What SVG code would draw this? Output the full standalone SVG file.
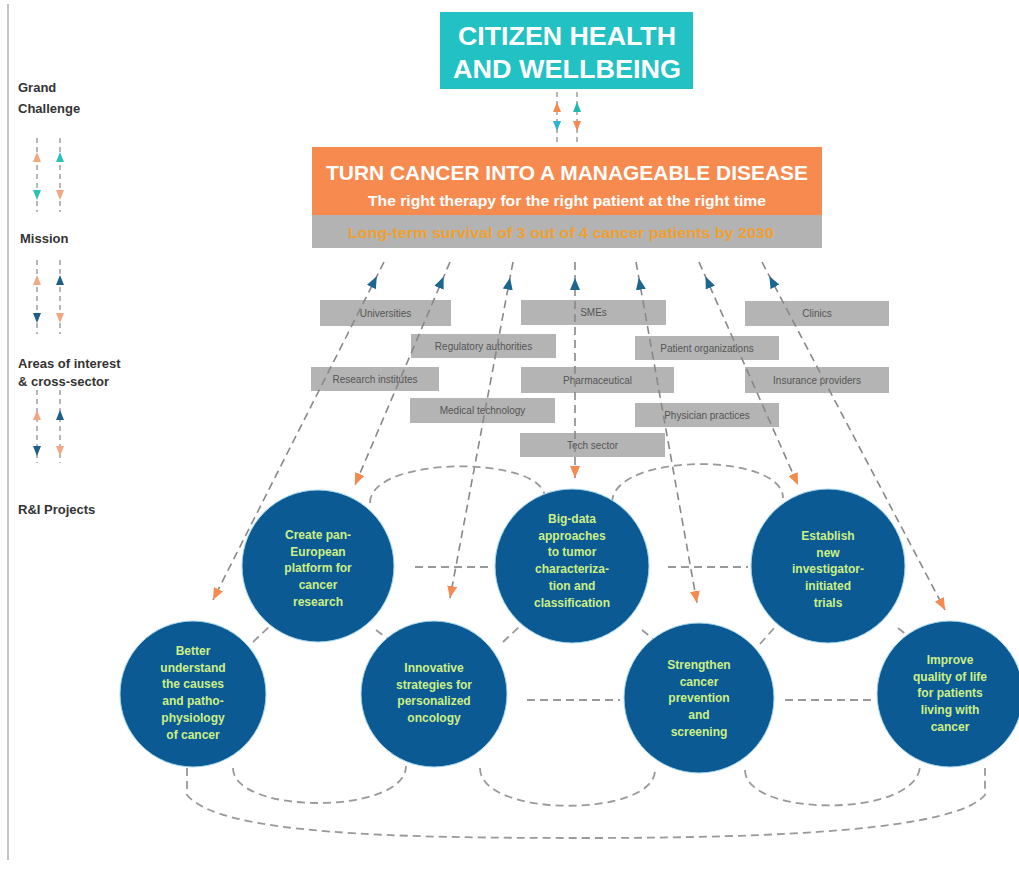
<svg xmlns="http://www.w3.org/2000/svg" width="1019" height="879" viewBox="0 0 1019 879">
<defs>
<style>
.lbl{font-family:"Liberation Sans",Arial,sans-serif;font-weight:bold;font-size:13px;fill:#333}
.box{fill:#b4b4b4}
.bt{font-family:"Liberation Sans",Arial,sans-serif;font-size:10px;fill:#555;text-anchor:middle}
.circ{fill:#0b5a93;stroke:#a8d8f0;stroke-width:1}
.ct{font-family:"Liberation Sans",Arial,sans-serif;font-weight:bold;font-size:12px;fill:#cdef86;text-anchor:middle}
.dash{fill:none;stroke:#999;stroke-width:1.8;stroke-dasharray:8 5}
.mline{fill:none;stroke:#888;stroke-width:1.6;stroke-dasharray:8 5;marker-mid:url(#bu);marker-end:url(#oe)}
.lg{fill:none;stroke:#999;stroke-width:1.4;stroke-dasharray:5 4}
</style>
<marker id="bu" viewBox="0 0 12 10" refX="0" refY="5" markerWidth="12" markerHeight="10" markerUnits="userSpaceOnUse" orient="auto">
<path d="M0,5 L12,0 L12,10 z" fill="#1d6690"/>
</marker>
<marker id="oe" viewBox="0 0 12 10" refX="12" refY="5" markerWidth="12" markerHeight="10" markerUnits="userSpaceOnUse" orient="auto">
<path d="M0,0 L12,5 L0,10 z" fill="#f5894f"/>
</marker>
</defs>
<rect width="1019" height="879" fill="#fff"/>
<line x1="8" y1="4" x2="8" y2="860" stroke="#c4c4c4" stroke-width="2"/>

<g id="legend">
<text class="lbl" x="18" y="92">Grand</text>
<text class="lbl" x="18" y="113">Challenge</text>
<text class="lbl" x="20" y="243">Mission</text>
<text class="lbl" x="18" y="368">Areas of interest</text>
<text class="lbl" x="18" y="386">&amp; cross-sector</text>
<text class="lbl" x="18" y="514">R&amp;I Projects</text>
<line class="lg" x1="37" y1="138" x2="37" y2="212"/>
<line class="lg" x1="60" y1="138" x2="60" y2="212"/>
<path d="M37,152 L41,162 L33,162 z" fill="#f4a582"/>
<path d="M37,200 L41,190 L33,190 z" fill="#2dc2b8"/>
<path d="M60,152 L64,162 L56,162 z" fill="#2dc2b8"/>
<path d="M60,200 L64,190 L56,190 z" fill="#f4a582"/>
<line class="lg" x1="37" y1="260" x2="37" y2="334"/>
<line class="lg" x1="60" y1="260" x2="60" y2="334"/>
<path d="M37,275 L41,285 L33,285 z" fill="#f4a582"/>
<path d="M37,323 L41,313 L33,313 z" fill="#1d5f88"/>
<path d="M60,275 L64,285 L56,285 z" fill="#1d5f88"/>
<path d="M60,323 L64,313 L56,313 z" fill="#f4a582"/>
<line class="lg" x1="37" y1="390" x2="37" y2="463"/>
<line class="lg" x1="60" y1="390" x2="60" y2="463"/>
<path d="M37,410 L41,420 L33,420 z" fill="#f4a582"/>
<path d="M37,456 L41,446 L33,446 z" fill="#1d5f88"/>
<path d="M60,410 L64,420 L56,420 z" fill="#1d5f88"/>
<path d="M60,456 L64,446 L56,446 z" fill="#f4a582"/>
</g>

<g id="citizen">
<rect x="440" y="12" width="253" height="77" fill="#22c1c4"/>
<text x="567" y="45" text-anchor="middle" font-family="Liberation Sans, Arial, sans-serif" font-weight="bold" font-size="26" fill="#fff" textLength="218" lengthAdjust="spacingAndGlyphs">CITIZEN HEALTH</text>
<text x="567" y="78" text-anchor="middle" font-family="Liberation Sans, Arial, sans-serif" font-weight="bold" font-size="26" fill="#fff" textLength="228" lengthAdjust="spacingAndGlyphs">AND WELLBEING</text>
</g>

<g id="mission">
<rect x="312" y="147" width="510" height="68" fill="#f78a4f"/>
<rect x="312" y="215" width="510" height="33" fill="#b3b3b3"/>
<text x="567" y="180" text-anchor="middle" font-family="Liberation Sans, Arial, sans-serif" font-weight="bold" font-size="20" fill="#fff" textLength="482" lengthAdjust="spacingAndGlyphs">TURN CANCER INTO A MANAGEABLE DISEASE</text>
<text x="567" y="206" text-anchor="middle" font-family="Liberation Sans, Arial, sans-serif" font-weight="bold" font-size="14" fill="#fff" textLength="398" lengthAdjust="spacingAndGlyphs">The right therapy for the right patient at the right time</text>
<text x="561" y="238" text-anchor="middle" font-family="Liberation Sans, Arial, sans-serif" font-weight="bold" font-size="14" fill="#f0a030" textLength="426" lengthAdjust="spacingAndGlyphs">Long-term survival of 3 out of 4 cancer patients by 2030</text>
</g>

<g id="areas">
<rect class="box" x="320" y="300" width="131" height="26"/><text class="bt" x="385.5" y="317">Universities</text>
<rect class="box" x="521" y="300" width="145" height="25"/><text class="bt" x="593.5" y="316">SMEs</text>
<rect class="box" x="745" y="301" width="144" height="25"/><text class="bt" x="817" y="317">Clinics</text>
<rect class="box" x="411" y="334" width="145" height="24"/><text class="bt" x="483.5" y="350">Regulatory authorities</text>
<rect class="box" x="635" y="336" width="144" height="24"/><text class="bt" x="707" y="352">Patient organizations</text>
<rect class="box" x="311" y="367" width="128" height="24"/><text class="bt" x="375" y="383">Research institutes</text>
<rect class="box" x="521" y="367" width="153" height="26"/><text class="bt" x="597.5" y="384">Pharmaceutical</text>
<rect class="box" x="745" y="367" width="144" height="26"/><text class="bt" x="817" y="384">Insurance providers</text>
<rect class="box" x="410" y="398" width="145" height="25"/><text class="bt" x="482.5" y="414">Medical technology</text>
<rect class="box" x="635" y="403" width="144" height="24"/><text class="bt" x="707" y="419">Physician practices</text>
<rect class="box" x="520" y="433" width="145" height="24"/><text class="bt" x="592.5" y="449">Tech sector</text>
</g>

<g id="connectors">
<line x1="557" y1="92" x2="557" y2="146" stroke="#999" stroke-width="1.4" stroke-dasharray="5 4"/>
<line x1="577" y1="92" x2="577" y2="146" stroke="#999" stroke-width="1.4" stroke-dasharray="5 4"/>
<path d="M557,102 L561,112 L553,112 z" fill="#f5894f"/>
<path d="M557,131 L561,121 L553,121 z" fill="#2bb5d0"/>
<path d="M577,102 L581,112 L573,112 z" fill="#22b8b0"/>
<path d="M577,131 L581,121 L573,121 z" fill="#f5894f"/>

<path class="mline" d="M384,262 L376.8,276.3 L213,600"/>
<path class="mline" d="M450,262 L443.7,276.7 L355,485"/>
<path class="mline" d="M513,262 L510,277.7 L450,598"/>
<path class="mline" d="M575,262 L575,278 L575,478"/>
<path class="mline" d="M636,262 L638.8,277.7 L697,603"/>
<path class="mline" d="M699,262 L705.5,276.6 L798,485"/>
<path class="mline" d="M762,262 L769.4,276.2 L945,610"/>

<path class="dash" d="M370,503 C370,455 545,455 545,498"/>
<path class="dash" d="M612,503 C612,452 783,452 783,498"/>
<line class="dash" x1="415" y1="567" x2="492" y2="567"/>
<line class="dash" x1="668" y1="567" x2="748" y2="567"/>
<line class="dash" x1="527" y1="700" x2="620" y2="700"/>
<line class="dash" x1="785" y1="700" x2="875" y2="700"/>
<line class="dash" x1="253" y1="642" x2="272" y2="624"/>
<line class="dash" x1="376" y1="630" x2="392" y2="642"/>
<line class="dash" x1="503" y1="642" x2="520" y2="626"/>
<line class="dash" x1="642" y1="630" x2="658" y2="643"/>
<line class="dash" x1="760" y1="644" x2="775" y2="627"/>
<line class="dash" x1="898" y1="628" x2="914" y2="641"/>
<path class="dash" d="M233,768 C233,815 406,815 406,766"/>
<path class="dash" d="M480,768 C480,818 655,818 655,770"/>
<path class="dash" d="M745,770 C745,818 920,818 920,765"/>
<path class="dash" d="M187,768 V795 C220,835 400,838 585,838 C780,838 955,830 985,795 V768"/>
</g>

<g id="n1">
<circle class="circ" cx="318" cy="566" r="76"/>
<text class="ct" x="318" y="539">Create pan-<tspan x="318" dy="16.7">European</tspan><tspan x="318" dy="16.7">platform for</tspan><tspan x="318" dy="16.7">cancer</tspan><tspan x="318" dy="16.7">research</tspan></text>
</g>
<g id="n2">
<circle class="circ" cx="572" cy="566" r="77"/>
<text class="ct" x="572" y="523">Big-data<tspan x="572" dy="16.7">approaches</tspan><tspan x="572" dy="16.7">to tumor</tspan><tspan x="572" dy="16.7">characteriza-</tspan><tspan x="572" dy="16.7">tion and</tspan><tspan x="572" dy="16.7">classification</tspan></text>
</g>
<g id="n3">
<circle class="circ" cx="828" cy="566" r="77"/>
<text class="ct" x="828" y="540">Establish<tspan x="828" dy="16.7">new</tspan><tspan x="828" dy="16.7">investigator-</tspan><tspan x="828" dy="16.7">initiated</tspan><tspan x="828" dy="16.7">trials</tspan></text>
</g>
<g id="n4">
<circle class="circ" cx="193" cy="694" r="73"/>
<text class="ct" x="193" y="655">Better<tspan x="193" dy="16.7">understand</tspan><tspan x="193" dy="16.7">the causes</tspan><tspan x="193" dy="16.7">and patho-</tspan><tspan x="193" dy="16.7">physiology</tspan><tspan x="193" dy="16.7">of cancer</tspan></text>
</g>
<g id="n5">
<circle class="circ" cx="434" cy="694" r="73"/>
<text class="ct" x="434" y="672">Innovative<tspan x="434" dy="16.7">strategies for</tspan><tspan x="434" dy="16.7">personalized</tspan><tspan x="434" dy="16.7">oncology</tspan></text>
</g>
<g id="n6">
<circle class="circ" cx="699" cy="698" r="75"/>
<text class="ct" x="699" y="669">Strengthen<tspan x="699" dy="16.7">cancer</tspan><tspan x="699" dy="16.7">prevention</tspan><tspan x="699" dy="16.7">and</tspan><tspan x="699" dy="16.7">screening</tspan></text>
</g>
<g id="n7">
<circle class="circ" cx="950" cy="694" r="73"/>
<text class="ct" x="950" y="664">Improve<tspan x="950" dy="16.7">quality of life</tspan><tspan x="950" dy="16.7">for patients</tspan><tspan x="950" dy="16.7">living with</tspan><tspan x="950" dy="16.7">cancer</tspan></text>
</g>
</svg>
